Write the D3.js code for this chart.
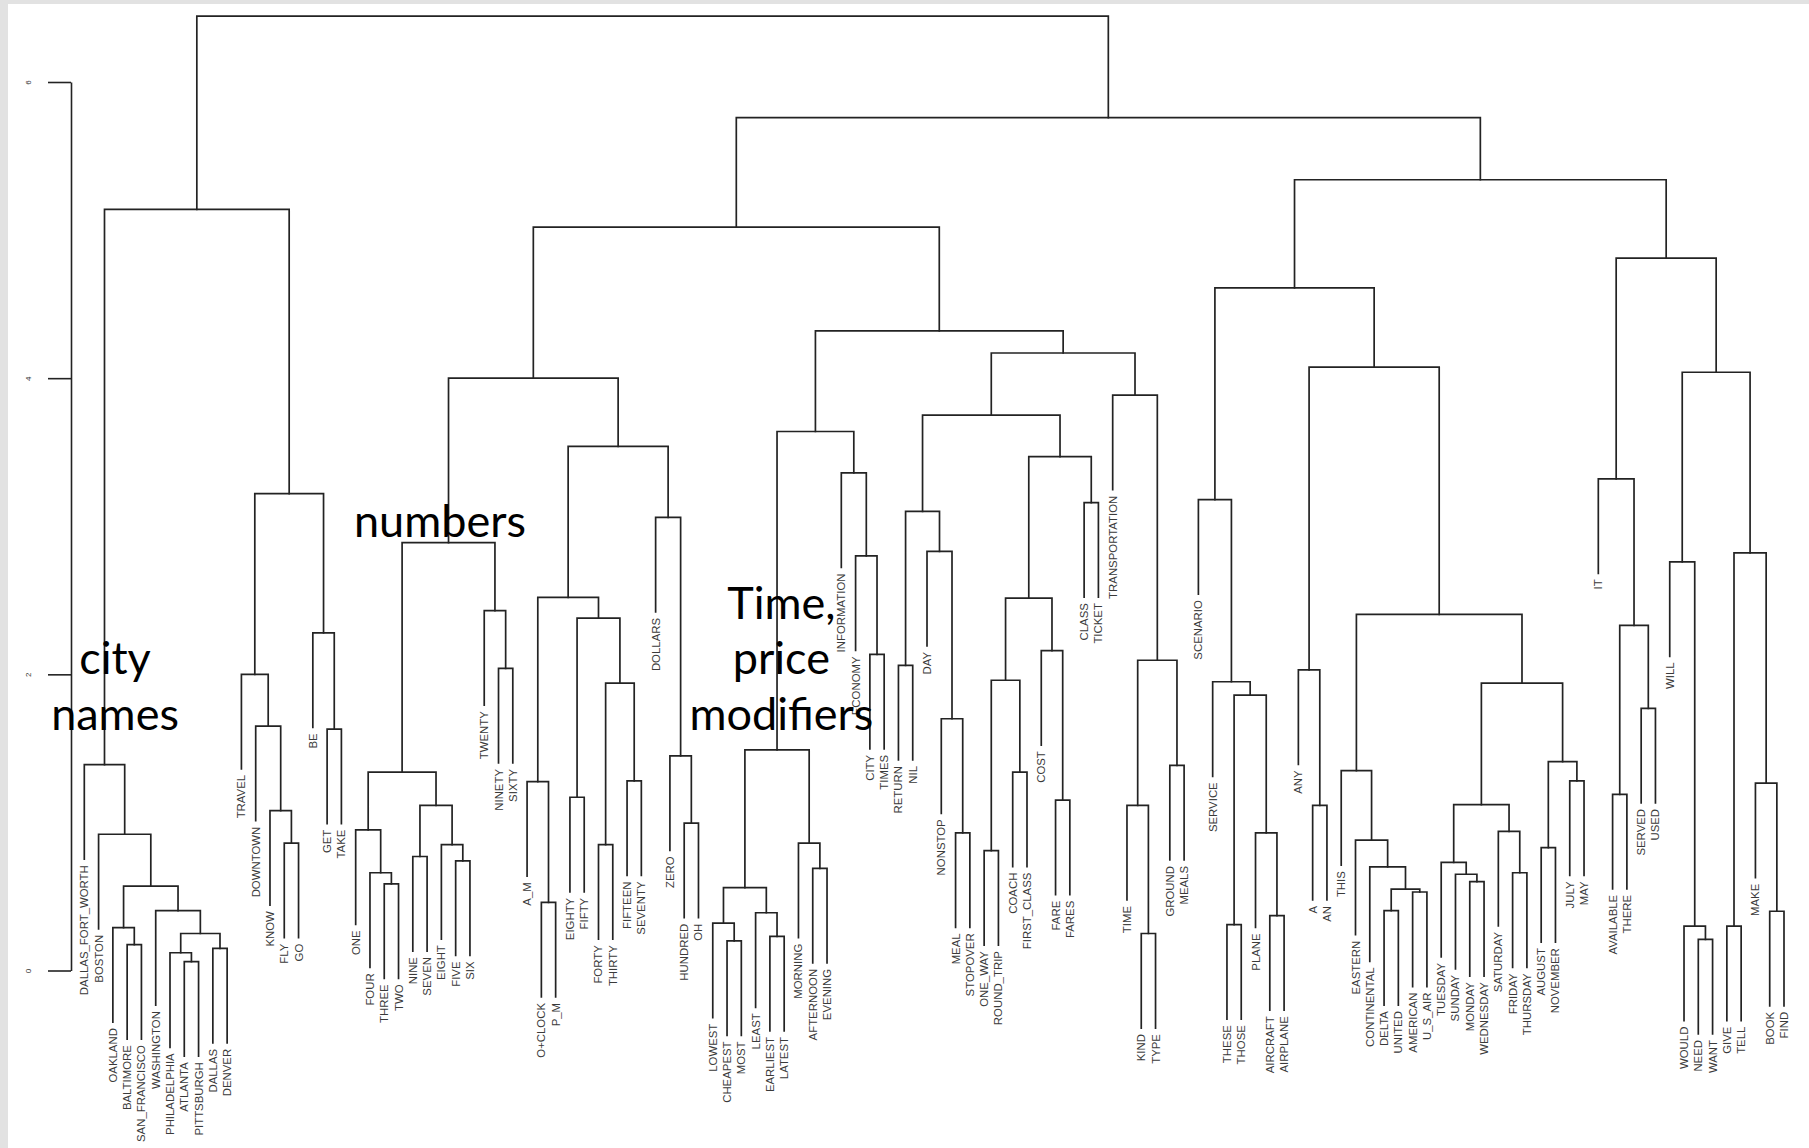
<!DOCTYPE html>
<html>
<head>
<meta charset="utf-8">
<script src="https://cdn.jsdelivr.net/npm/d3@7"></script>
<style>
  html, body { margin: 0; padding: 0; background: #ffffff; }
  svg { display: block; }
</style>
</head>
<body>
<svg id="chart" width="1809" height="1148"></svg>
<script>
// Leaf words, in dendrogram order (left to right)
const leaves = [
  "DALLAS_FORT_WORTH","BOSTON","OAKLAND","BALTIMORE","SAN_FRANCISCO","WASHINGTON",
  "PHILADELPHIA","ATLANTA","PITTSBURGH","DALLAS","DENVER",
  "TRAVEL","DOWNTOWN","KNOW","FLY","GO","BE","GET","TAKE",
  "ONE","FOUR","THREE","TWO","NINE","SEVEN","EIGHT","FIVE","SIX",
  "TWENTY","NINETY","SIXTY","A_M","O+CLOCK","P_M","EIGHTY","FIFTY",
  "FORTY","THIRTY","FIFTEEN","SEVENTY","DOLLARS","ZERO","HUNDRED","OH",
  "LOWEST","CHEAPEST","MOST","LEAST","EARLIEST","LATEST","MORNING","AFTERNOON","EVENING",
  "INFORMATION","ECONOMY","CITY","TIMES",
  "RETURN","NIL","DAY","NONSTOP","MEAL","STOPOVER","ONE_WAY","ROUND_TRIP",
  "COACH","FIRST_CLASS","COST","FARE","FARES","CLASS","TICKET","TRANSPORTATION",
  "TIME","KIND","TYPE","GROUND","MEALS",
  "SCENARIO","SERVICE","THESE","THOSE","PLANE","AIRCRAFT","AIRPLANE",
  "ANY","A","AN","THIS","EASTERN","CONTINENTAL","DELTA","UNITED","AMERICAN","U_S_AIR",
  "TUESDAY","SUNDAY","MONDAY","WEDNESDAY","SATURDAY","FRIDAY","THURSDAY",
  "AUGUST","NOVEMBER","JULY","MAY",
  "IT","AVAILABLE","THERE","SERVED","USED","WILL","WOULD","NEED","WANT",
  "GIVE","TELL","MAKE","BOOK","FIND"
];

// Merges: [id, left, right, height]; left/right are leaf words or earlier merge ids
const cityMerges = [
  ["c1","ATLANTA","PITTSBURGH",0.06],
  ["c2","PHILADELPHIA","c1",0.12],
  ["c3","DALLAS","DENVER",0.15],
  ["c4","c2","c3",0.25],
  ["c5","WASHINGTON","c4",0.405],
  ["c6","BALTIMORE","SAN_FRANCISCO",0.175],
  ["c7","OAKLAND","c6",0.29],
  ["c8","c7","c5",0.57],
  ["c9","BOSTON","c8",0.92],
  ["c10","DALLAS_FORT_WORTH","c9",1.39]
];
const travelMerges = [
  ["t1","FLY","GO",0.86],
  ["t2","KNOW","t1",1.08],
  ["t3","DOWNTOWN","t2",1.65],
  ["t4","TRAVEL","t3",2.0],
  ["t5","GET","TAKE",1.63],
  ["t6","BE","t5",2.28],
  ["t7","t4","t6",3.22],
  ["l1","c10","t7",5.14]
];
const numberMerges = [
  ["n1","THREE","TWO",0.585],
  ["n2","FOUR","n1",0.66],
  ["n3","ONE","n2",0.95],
  ["n4","NINE","SEVEN",0.77],
  ["n5","FIVE","SIX",0.74],
  ["n6","EIGHT","n5",0.85],
  ["n7","n4","n6",1.115],
  ["n8","n3","n7",1.34],
  ["n9","NINETY","SIXTY",2.04],
  ["n10","TWENTY","n9",2.43],
  ["n11","n8","n10",2.89],
  ["n12","O+CLOCK","P_M",0.46],
  ["n13","A_M","n12",1.275],
  ["n14","EIGHTY","FIFTY",1.17],
  ["n15","FORTY","THIRTY",0.85],
  ["n16","FIFTEEN","SEVENTY",1.28],
  ["n17","n15","n16",1.94],
  ["n18","n14","n17",2.38],
  ["n19","n13","n18",2.52],
  ["n20","HUNDRED","OH",0.995],
  ["n21","ZERO","n20",1.45],
  ["n22","DOLLARS","n21",3.06],
  ["n23","n19","n22",3.54],
  ["n24","n11","n23",4.0]
];
const modifierMerges = [
  ["p1","CHEAPEST","MOST",0.2],
  ["p2","LOWEST","p1",0.32],
  ["p3","EARLIEST","LATEST",0.23],
  ["p4","LEAST","p3",0.39],
  ["p5","p2","p4",0.56],
  ["p6","AFTERNOON","EVENING",0.69],
  ["p7","MORNING","p6",0.86],
  ["p8","p5","p7",1.49],
  ["i1","CITY","TIMES",2.135],
  ["i2","ECONOMY","i1",2.8],
  ["i3","INFORMATION","i2",3.36],
  ["i4","p8","i3",3.64]
];
const fareMerges = [
  ["f1","RETURN","NIL",2.06],
  ["f2","MEAL","STOPOVER",0.93],
  ["f3","NONSTOP","f2",1.7],
  ["f4","DAY","f3",2.83],
  ["f5","f1","f4",3.1],
  ["f6","ONE_WAY","ROUND_TRIP",0.81],
  ["f7","COACH","FIRST_CLASS",1.34],
  ["f8","f6","f7",1.96],
  ["f9","FARE","FARES",1.15],
  ["f10","COST","f9",2.16],
  ["f11","f8","f10",2.515],
  ["f12","CLASS","TICKET",3.16],
  ["f13","f11","f12",3.47],
  ["f14","f5","f13",3.75],
  ["f15","KIND","TYPE",0.25],
  ["f16","TIME","f15",1.115],
  ["f17","GROUND","MEALS",1.385],
  ["f18","f16","f17",2.095],
  ["f19","TRANSPORTATION","f18",3.885],
  ["f20","f14","f19",4.17],
  ["f21","i4","f20",4.32],
  ["r1","n24","f21",5.02]
];
const serviceMerges = [
  ["s1","THESE","THOSE",0.31],
  ["s2","AIRCRAFT","AIRPLANE",0.37],
  ["s3","PLANE","s2",0.93],
  ["s4","s1","s3",1.86],
  ["s5","SERVICE","s4",1.95],
  ["s6","SCENARIO","s5",3.18],
  ["s7","A","AN",1.115],
  ["s8","ANY","s7",2.03],
  ["s9","DELTA","UNITED",0.405],
  ["s10","AMERICAN","U_S_AIR",0.53],
  ["s11","s9","s10",0.55],
  ["s12","CONTINENTAL","s11",0.7],
  ["s13","EASTERN","s12",0.88],
  ["s14","THIS","s13",1.35],
  ["s15","MONDAY","WEDNESDAY",0.6],
  ["s16","SUNDAY","s15",0.65],
  ["s17","TUESDAY","s16",0.73],
  ["s18","FRIDAY","THURSDAY",0.66],
  ["s19","SATURDAY","s18",0.94],
  ["s20","s17","s19",1.12],
  ["s21","AUGUST","NOVEMBER",0.83],
  ["s22","JULY","MAY",1.28],
  ["s23","s21","s22",1.41],
  ["s24","s20","s23",1.94],
  ["s25","s14","s24",2.405],
  ["s26","s8","s25",4.075],
  ["s27","s6","s26",4.61]
];
const verbMerges = [
  ["w1","AVAILABLE","THERE",1.19],
  ["w2","SERVED","USED",1.77],
  ["w3","w1","w2",2.33],
  ["w4","IT","w3",3.32],
  ["w5","NEED","WANT",0.21],
  ["w6","WOULD","w5",0.3],
  ["w7","WILL","w6",2.76],
  ["w8","GIVE","TELL",0.3],
  ["w9","BOOK","FIND",0.4],
  ["w10","MAKE","w9",1.265],
  ["w11","w8","w10",2.82],
  ["w12","w7","w11",4.04],
  ["w13","w4","w12",4.81]
];
const topMerges = [
  ["r2","s27","w13",5.34],
  ["r3","r1","r2",5.76],
  ["root","l1","r3",6.445]
];

const axisTicks = [0, 2, 4, 6];

// Group captions: text lines, anchored at a leaf position and a height
const captionLines = [["city","names"], ["numbers"], ["Time,","price","modifiers"]];
const captionLeaf  = [3.15, 25.9, 49.8];
const captionHeight = [2.0, 2.93, 2.375];

// ---------------------------------------------------------------
const W = 1809, H = 1148;
const svg = d3.select("#chart");

// frame: light grey strip on the left and top edges
svg.append("rect").attr("width", W).attr("height", H).attr("fill", "#e2e2e2");
svg.append("rect").attr("x", 8).attr("y", 4).attr("width", W - 8).attr("height", H - 4).attr("fill", "#ffffff");

const x = d3.scaleLinear().domain([1, leaves.length]).range([84.3, 1784]);
const y = d3.scaleLinear().domain([0, 6]).range([970.5, 82]);

// assemble the tree
const merges = [].concat(cityMerges, travelMerges, numberMerges, modifierMerges,
                         fareMerges, serviceMerges, verbMerges, topMerges);
const byId = new Map();
leaves.forEach((name, i) => byId.set(name, { name, order: i + 1 }));
merges.forEach(([id, a, b, h]) => byId.set(id, { name: id, h, children: [byId.get(a), byId.get(b)] }));
const root = d3.hierarchy(byId.get("root"));

root.eachAfter(n => {
  n.px = n.children ? d3.mean(n.children, c => c.px) : x(n.data.order);
});

const heights = merges.map(m => m[3]);
const hang = 0.1 * (d3.max(heights) - d3.min(heights));
const childEnd = (parent, c) => c.children ? y(c.data.h) : y(parent.data.h - hang);

// branches
svg.append("g")
  .attr("fill", "none")
  .attr("stroke", "#232323")
  .attr("stroke-width", 1.7)
  .attr("stroke-linecap", "square")
  .selectAll("path")
  .data(root.descendants().filter(n => n.children))
  .join("path")
  .attr("d", n => {
    const [a, b] = n.children;
    const yh = y(n.data.h);
    return `M${a.px},${childEnd(n, a)}V${yh}H${b.px}V${childEnd(n, b)}`;
  });

// leaf labels, rotated, hanging below each leaf
svg.append("g")
  .attr("font-family", "'Liberation Sans', Arial, sans-serif")
  .attr("font-size", 11.4)
  .attr("fill", "#3a3a3a")
  .selectAll("text")
  .data(root.leaves())
  .join("text")
  .attr("text-anchor", "end")
  .attr("dy", "0.35em")
  .attr("transform", n => `translate(${n.px},${y(n.parent.data.h - hang) + 6}) rotate(-90)`)
  .text(n => n.data.name);

// height axis
const axis = d3.axisLeft(y).tickValues(axisTicks).tickSize(23).tickSizeOuter(0).tickFormat(d3.format("d"));
const ag = svg.append("g").attr("transform", "translate(71,0)").call(axis);
ag.select(".domain").attr("stroke", "#232323").attr("stroke-width", 1.6);
ag.selectAll(".tick line").attr("stroke", "#232323").attr("stroke-width", 1.6);
ag.selectAll(".tick text")
  .attr("x", null).attr("dy", "0.35em")
  .attr("text-anchor", "middle")
  .attr("transform", "translate(-43,0) rotate(-90)")
  .attr("font-family", "'Liberation Sans', Arial, sans-serif")
  .attr("font-size", 8)
  .attr("fill", "#333");

// group captions
const capG = svg.append("g")
  .attr("font-family", "Lato, 'Open Sans', sans-serif")
  .attr("font-size", 45)
  .attr("fill", "#000")
  .attr("text-anchor", "middle");
captionLines.forEach((lines, k) => {
  lines.forEach((line, j) => {
    capG.append("text")
      .attr("x", x(captionLeaf[k]))
      .attr("y", y(captionHeight[k]) + j * 55.5)
      .text(line);
  });
});
</script>
</body>
</html>
